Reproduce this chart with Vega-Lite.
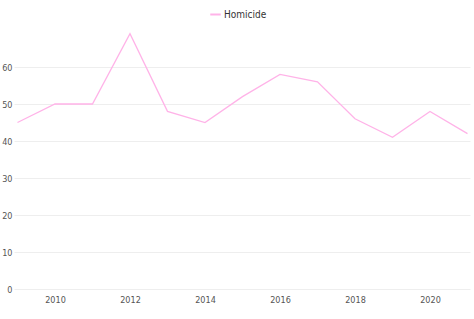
{
  "$schema": "https://vega.github.io/schema/vega-lite/v6.json",
  "autosize": "none",
  "width": 456,
  "height": 259,
  "padding": {"left": 14, "top": 30, "right": 4, "bottom": 30},
  "background": "white",
  "config": {
    "view": {"stroke": null},
    "font": "DejaVu Sans Condensed, Liberation Sans Narrow, Roboto, sans-serif"
  },
  "data": {
    "values": [
      {"year": 2009, "value": 45, "series": "Homicide"},
      {"year": 2010, "value": 50, "series": "Homicide"},
      {"year": 2011, "value": 50, "series": "Homicide"},
      {"year": 2012, "value": 69, "series": "Homicide"},
      {"year": 2013, "value": 48, "series": "Homicide"},
      {"year": 2014, "value": 45, "series": "Homicide"},
      {"year": 2015, "value": 52, "series": "Homicide"},
      {"year": 2016, "value": 58, "series": "Homicide"},
      {"year": 2017, "value": 56, "series": "Homicide"},
      {"year": 2018, "value": 46, "series": "Homicide"},
      {"year": 2019, "value": 41, "series": "Homicide"},
      {"year": 2020, "value": 48, "series": "Homicide"},
      {"year": 2021, "value": 42, "series": "Homicide"}
    ]
  },
  "mark": {"type": "line", "strokeWidth": 1.3},
  "encoding": {
    "x": {
      "field": "year", "type": "quantitative",
      "scale": {"domain": [2008.907, 2021.067], "nice": false, "zero": false},
      "axis": {
        "title": null, "values": [2010, 2012, 2014, 2016, 2018, 2020], "format": "d",
        "grid": false, "domain": false, "ticks": false, "labelPadding": 6,
        "labelFontSize": 9, "labelColor": "#555"
      }
    },
    "y": {
      "field": "value", "type": "quantitative",
      "scale": {"domain": [0, 70], "nice": false},
      "axis": {
        "title": null, "values": [0, 10, 20, 30, 40, 50, 60],
        "grid": true, "gridColor": "#eeeeee", "domain": false, "ticks": false,
        "labelPadding": 2, "labelFontSize": 9, "labelColor": "#555"
      }
    },
    "color": {
      "field": "series", "type": "nominal",
      "scale": {"range": ["#ffb3e8"]},
      "legend": {
        "title": null, "orient": "none", "legendX": 195, "legendY": -22,
        "direction": "horizontal",
        "symbolType": "stroke", "symbolSize": 110, "symbolStrokeWidth": 2,
        "labelFontSize": 10, "labelColor": "#333", "labelOffset": 2
      }
    }
  }
}
